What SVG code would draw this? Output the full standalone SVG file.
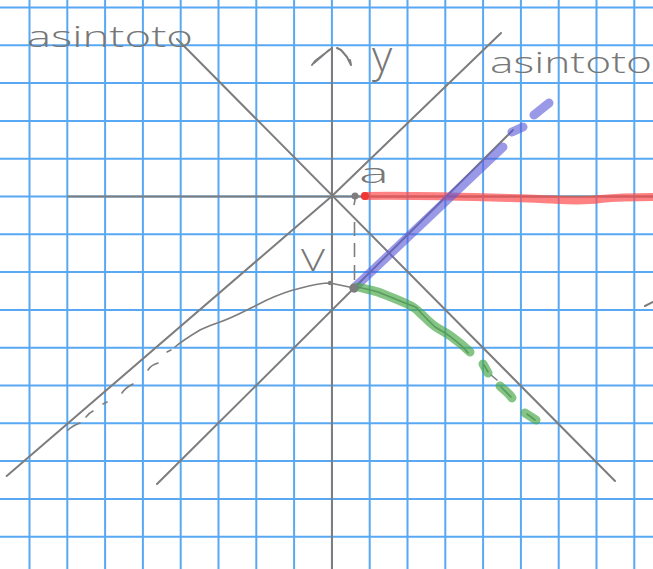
<svg xmlns="http://www.w3.org/2000/svg" width="653" height="569" viewBox="0 0 653 569">
<style>
.grid line{stroke:#59a8f3;stroke-width:2}
.g{stroke:#7d7d7d;fill:none;stroke-width:2;stroke-linecap:round;stroke-linejoin:round}
.thin{stroke:#7d7d7d;fill:none;stroke-width:1.6;stroke-linecap:round;stroke-linejoin:round}
.lbl{font-family:"Open Sans","Liberation Sans","DejaVu Sans",sans-serif;font-weight:300;fill:#777777}
</style>
<rect width="653" height="569" fill="#ffffff"/>
<g id="grid" class="grid">
<line x1="29.5" y1="0" x2="29.5" y2="569"/><line x1="67.3" y1="0" x2="67.3" y2="569"/><line x1="105.1" y1="0" x2="105.1" y2="569"/><line x1="142.9" y1="0" x2="142.9" y2="569"/><line x1="180.7" y1="0" x2="180.7" y2="569"/><line x1="218.5" y1="0" x2="218.5" y2="569"/><line x1="256.3" y1="0" x2="256.3" y2="569"/><line x1="294.1" y1="0" x2="294.1" y2="569"/><line x1="331.9" y1="0" x2="331.9" y2="569"/><line x1="369.7" y1="0" x2="369.7" y2="569"/><line x1="407.5" y1="0" x2="407.5" y2="569"/><line x1="445.3" y1="0" x2="445.3" y2="569"/><line x1="483.1" y1="0" x2="483.1" y2="569"/><line x1="520.9" y1="0" x2="520.9" y2="569"/><line x1="558.7" y1="0" x2="558.7" y2="569"/><line x1="596.5" y1="0" x2="596.5" y2="569"/><line x1="634.3" y1="0" x2="634.3" y2="569"/>
<line x1="0" y1="7.5" x2="653" y2="7.5"/><line x1="0" y1="45.3" x2="653" y2="45.3"/><line x1="0" y1="83.1" x2="653" y2="83.1"/><line x1="0" y1="120.9" x2="653" y2="120.9"/><line x1="0" y1="158.7" x2="653" y2="158.7"/><line x1="0" y1="196.5" x2="653" y2="196.5"/><line x1="0" y1="234.3" x2="653" y2="234.3"/><line x1="0" y1="272.1" x2="653" y2="272.1"/><line x1="0" y1="309.9" x2="653" y2="309.9"/><line x1="0" y1="347.7" x2="653" y2="347.7"/><line x1="0" y1="385.5" x2="653" y2="385.5"/><line x1="0" y1="423.3" x2="653" y2="423.3"/><line x1="0" y1="461.1" x2="653" y2="461.1"/><line x1="0" y1="498.9" x2="653" y2="498.9"/><line x1="0" y1="536.7" x2="653" y2="536.7"/>
</g>
<g id="axes">
<line class="g" x1="68" y1="196.5" x2="653" y2="196.5"/>
<line class="g" x1="332" y1="48" x2="332" y2="569" stroke-width="2.4"/>
<path class="g" d="M312,65 L315,61 L332,48 M314,63 L329,50 M337,48 L341,50 L347,57 L351,65 L350,60"/>
</g>
<g id="asymptotes">
<line class="g" x1="177" y1="39" x2="615" y2="481"/>
<polyline class="g" points="6.7,476 332,196 501,33"/>
<line class="g" x1="157" y1="484" x2="513" y2="130"/>
<line class="g" x1="645" y1="306" x2="653" y2="302"/>
</g>
<g id="curves">
<path class="thin" d="M354,288 L330,283 C318,283 305,287 293,290 C280,294 268,299 257,305 C245,311 232,318 220,322 C212,325 206,327 200,330 C190,336 182,341 175,347"/>
<path class="thin" d="M167,352 L171,350 M148,370 Q151,365 158,363 M122,393 Q126,387 133,384 M103,404 L107,402 M86,417 Q89,413 93,411 M68,430 Q72,426 80,423"/>
<path class="thin" stroke="#3f5f3f" d="M354,288 L358,287 C365,289 372,290 378,292 C388,296 396,299 405,303 C410,305 414,306 417,308 C420,312 422,314 425,317 C429,321 432,324 435,327 C440,330 444,332 448,335 C456,341 463,346 468,353 M484,365 L488,372 M491,375 L497,380 M501,387 L511,397 M527,414 L535,420"/>
<path d="M354,196 L355,200 L354,205 M354.5,222 V236 M354.5,243 V257 M354.5,265 V280" stroke="#7d7d7d" stroke-width="1.6" fill="none"/>
<path d="M365,196 C430,195 500,198 540,199 C565,200 580,202 600,199 C620,197 640,197 653,197" stroke="#ff4b4b" stroke-opacity="0.7" stroke-width="8" fill="none" stroke-linecap="round"/>
<circle cx="365" cy="196" r="4" fill="#f03535"/>
<path d="M354,288 L503,147 M512,132 L523,127 M534,115 L549,103" stroke="#5a5ad8" stroke-opacity="0.62" stroke-width="9" fill="none" stroke-linecap="round"/>
<path d="M358,287 C365,289 372,290 378,292 C388,296 396,299 405,303 C412,306 416,308 420,313 C426,318 430,323 436,327 C442,331 447,333 452,337 C459,342 465,347 470,352 M483,364 L488,373 M500,386 C504,390 509,393 512,398 M525,413 L536,420" stroke="#4aa84a" stroke-opacity="0.68" stroke-width="9" fill="none" stroke-linecap="round" stroke-linejoin="round"/>
<circle cx="355" cy="196" r="3.5" fill="#7d7d7d"/>
<circle cx="354" cy="288" r="4.5" fill="#7d7d7d"/>
<circle cx="330" cy="283" r="2.2" fill="#7d7d7d"/>
</g>
<g id="labels">
<text class="lbl" x="27" y="47" font-size="30" textLength="166" lengthAdjust="spacingAndGlyphs">asintoto</text>
<text class="lbl" x="490" y="73" font-size="30" textLength="162" lengthAdjust="spacingAndGlyphs">asintoto</text>
<text class="lbl" x="372" y="72" font-size="44">y</text>
<text class="lbl" x="359" y="183" font-size="28" textLength="30" lengthAdjust="spacingAndGlyphs">a</text>
<text class="lbl" x="301" y="271" font-size="31" textLength="24" lengthAdjust="spacingAndGlyphs">V</text>
</g>
</svg>
